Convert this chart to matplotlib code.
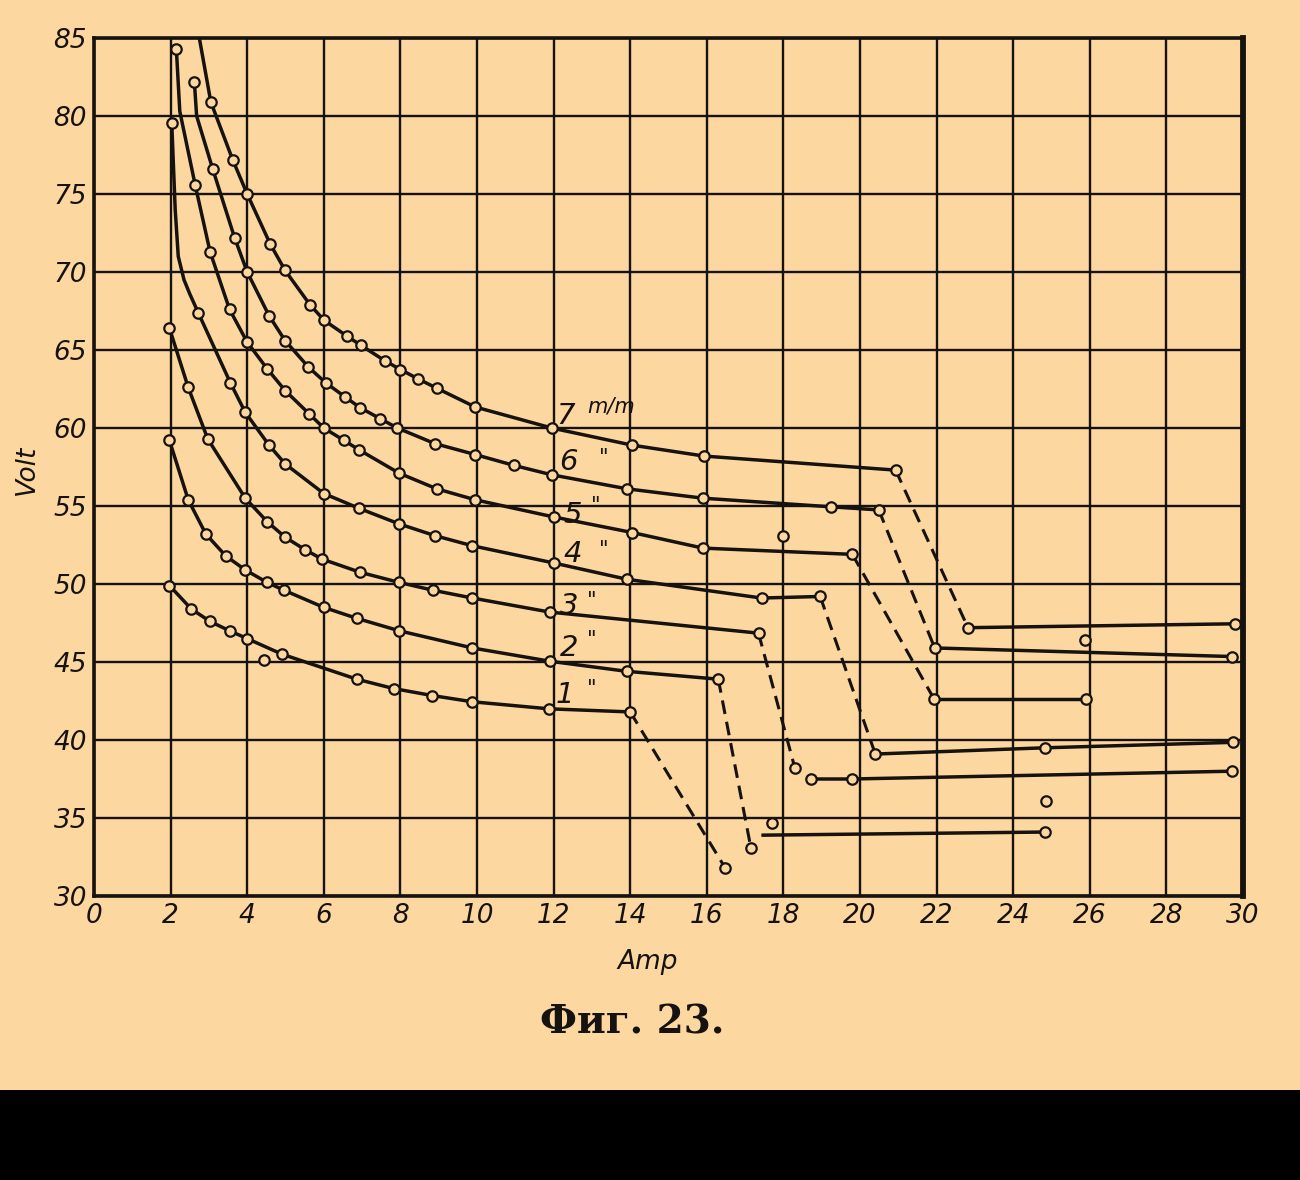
import matplotlib
matplotlib.use('Agg')
import matplotlib.pyplot as plt
from matplotlib.patches import Rectangle

BG = '#FDD7A0'
INK = '#161210'

# ---------------- data (Amp, Volt) ----------------
amp_ticks = list(range(0, 31, 2))
volt_ticks = list(range(30, 86, 5))

# curve "7 m/m"  (mark = 0: vertex of the drawn line without an observation circle)
c7_amp  = [2.75, 3.05, 3.62, 4.00, 4.60, 4.99, 5.64, 6.01, 6.60, 6.97, 7.60, 8.00, 8.46, 8.95, 9.95, 11.95, 14.05, 15.93, 20.93]
c7_volt = [85.0, 80.9, 77.2, 75.0, 71.8, 70.1, 67.9, 66.9, 65.9, 65.3, 64.3, 63.75, 63.15, 62.55, 61.35, 60.0, 58.9, 58.2, 57.3]
c7_mark = [0] + [1] * 18
c7_low_amp  = [22.82, 29.80]
c7_low_volt = [47.2, 47.45]

# curve "6"
c6_amp  = [2.62, 2.68, 3.10, 3.67, 4.00, 4.57, 4.99, 5.60, 6.05, 6.55, 6.95, 7.47, 7.92, 8.90, 9.95, 10.97, 11.95, 13.92, 15.90, 19.23, 20.49]
c6_volt = [82.2, 80.0, 76.6, 72.2, 70.0, 67.2, 65.6, 63.9, 62.9, 62.0, 61.3, 60.6, 60.0, 59.0, 58.3, 57.6, 57.0, 56.1, 55.5, 54.95, 54.75]
c6_mark = [1, 0] + [1] * 19
c6_low_amp  = [21.95, 29.71]
c6_low_volt = [45.9, 45.35]

# curve "5"
c5_amp  = [2.15, 2.24, 2.64, 3.03, 3.54, 4.00, 4.52, 4.99, 5.62, 6.00, 6.53, 6.92, 7.97, 8.95, 9.95, 12.00, 14.05, 15.90, 19.80]
c5_volt = [84.3, 80.3, 75.6, 71.3, 67.6, 65.5, 63.8, 62.4, 60.9, 60.0, 59.2, 58.6, 57.1, 56.1, 55.4, 54.3, 53.3, 52.3, 51.9]
c5_mark = [1, 0] + [1] * 17
c5_low_amp  = [21.94, 25.90]
c5_low_volt = [42.6, 42.6]

# curve "4"
c4_amp  = [2.03, 2.12, 2.20, 2.35, 2.50, 2.72, 3.56, 3.95, 4.57, 4.99, 6.00, 6.92, 7.97, 8.90, 9.88, 12.00, 13.92, 17.43, 18.96]
c4_volt = [79.55, 74.0, 71.0, 69.5, 68.6, 67.4, 62.9, 61.0, 58.9, 57.7, 55.8, 54.85, 53.85, 53.1, 52.45, 51.35, 50.3, 49.1, 49.2]
c4_mark = [1, 0, 0, 0, 0] + [1] * 14
c4_low_amp  = [20.40, 24.82, 29.74]
c4_low_volt = [39.1, 39.5, 39.85]

# curve "3"
c3_amp  = [1.97, 2.46, 2.97, 3.95, 4.52, 4.99, 5.51, 5.95, 6.95, 7.97, 8.85, 9.88, 11.90, 17.35]
c3_volt = [66.4, 62.6, 59.3, 55.5, 54.0, 53.0, 52.2, 51.6, 50.75, 50.1, 49.6, 49.1, 48.2, 46.85]
c3_mark = [1] * 14
c3_drop_amp, c3_drop_volt = 18.30, 38.2
c3_low_amp  = [18.71, 19.78, 29.71]
c3_low_volt = [37.5, 37.5, 38.0]

# curve "2"
c2_amp  = [1.97, 2.46, 2.92, 3.44, 3.95, 4.52, 4.96, 6.00, 6.86, 7.97, 9.88, 11.90, 13.92, 16.30]
c2_volt = [59.2, 55.4, 53.2, 51.8, 50.9, 50.1, 49.6, 48.5, 47.8, 47.0, 45.9, 45.05, 44.4, 43.9]
c2_mark = [1] * 14
c2_drop_amp, c2_drop_volt = 17.15, 33.1

# curve "1"
c1_amp  = [1.97, 2.54, 3.03, 3.54, 4.00, 4.91, 6.86, 7.82, 8.83, 9.88, 11.87, 14.00]
c1_volt = [49.9, 48.4, 47.6, 47.0, 46.5, 45.5, 43.9, 43.3, 42.85, 42.45, 42.0, 41.8]
c1_mark = [1] * 12
c1_drop_amp, c1_drop_volt = 16.48, 31.8

# short low segment and loose observation circles
low_seg_amp  = [17.47, 24.82]
low_seg_volt = [33.9, 34.1]
loose_amp  = [25.87, 18.00, 17.70, 24.85, 4.44]
loose_volt = [46.4, 53.05, 34.7, 36.1, 45.1]

curve_labels = ['7', '6', '5', '4', '3', '2', '1']
label_amp  = [12.30, 12.40, 12.49, 12.49, 12.40, 12.40, 12.30]
label_volt = [60.8, 57.8, 54.45, 51.9, 48.6, 45.9, 42.9]
quote_amp  = [None, 13.30, 13.10, 13.30, 13.00, 13.00, 13.00]
quote_volt = [None, 58.1, 55.0, 52.2, 48.9, 46.4, 43.3]

# ---------------- drawing ----------------
W, H = 1300, 1180
fig = plt.figure(figsize=(W / 100, H / 100), dpi=100, facecolor=BG)
ax = fig.add_axes([94 / W, 1 - 896 / H, (1243 - 94) / W, (896 - 38) / H])
ax.set_facecolor(BG)
ax.set_xlim(0, 30)
ax.set_ylim(30, 85)
ax.set_xticks(amp_ticks)
ax.set_yticks(volt_ticks)
ax.grid(True, color=INK, lw=1.7)
ax.set_axisbelow(True)
ax.tick_params(length=0, labelsize=19, pad=5, colors=INK)
for lab in ax.get_xticklabels() + ax.get_yticklabels():
    lab.set_style('italic')
for side in ['left', 'bottom', 'top']:
    ax.spines[side].set_linewidth(2.6)
    ax.spines[side].set_color(INK)
ax.spines['right'].set_linewidth(4.2)
ax.spines['right'].set_color(INK)

LW = 2.5
DASH = (0, (4.5, 2.6))


def markers(xs, ys):
    ax.plot(xs, ys, 'o', ms=7.5, mfc=BG, mec=INK, mew=1.6, zorder=5, clip_on=False)


def curve(xs, ys, mask):
    ax.plot(xs, ys, color=INK, lw=LW, zorder=4, solid_capstyle='round', solid_joinstyle='round')
    markers([x for x, m in zip(xs, mask) if m], [y for y, m in zip(ys, mask) if m])


def drop(x0, y0, x1, y1):
    ax.plot([x0, x1], [y0, y1], color=INK, lw=2.2, ls=DASH, zorder=4)


def low(xs, ys):
    ax.plot(xs, ys, color=INK, lw=LW, zorder=4)
    markers(xs, ys)


curve(c7_amp, c7_volt, c7_mark)
drop(c7_amp[-1], c7_volt[-1], c7_low_amp[0], c7_low_volt[0])
low(c7_low_amp, c7_low_volt)

curve(c6_amp, c6_volt, c6_mark)
drop(c6_amp[-1], c6_volt[-1], c6_low_amp[0], c6_low_volt[0])
low(c6_low_amp, c6_low_volt)

curve(c5_amp, c5_volt, c5_mark)
drop(c5_amp[-1], c5_volt[-1], c5_low_amp[0], c5_low_volt[0])
low(c5_low_amp, c5_low_volt)

curve(c4_amp, c4_volt, c4_mark)
drop(c4_amp[-1], c4_volt[-1], c4_low_amp[0], c4_low_volt[0])
low(c4_low_amp, c4_low_volt)

curve(c3_amp, c3_volt, c3_mark)
drop(c3_amp[-1], c3_volt[-1], c3_drop_amp, c3_drop_volt)
markers([c3_drop_amp], [c3_drop_volt])
low(c3_low_amp, c3_low_volt)

curve(c2_amp, c2_volt, c2_mark)
drop(c2_amp[-1], c2_volt[-1], c2_drop_amp, c2_drop_volt)
markers([c2_drop_amp], [c2_drop_volt])

curve(c1_amp, c1_volt, c1_mark)
drop(c1_amp[-1], c1_volt[-1], c1_drop_amp, c1_drop_volt)
markers([c1_drop_amp], [c1_drop_volt])

ax.plot(low_seg_amp, low_seg_volt, color=INK, lw=LW, zorder=4)
markers([low_seg_amp[-1]], [low_seg_volt[-1]])
markers(loose_amp, loose_volt)

for t, x, y, qx, qy in zip(curve_labels, label_amp, label_volt, quote_amp, quote_volt):
    ax.text(x, y, t, fontsize=21, style='italic', color=INK, ha='center', va='center', zorder=6)
    if qx is not None:
        ax.text(qx, qy, '"', fontsize=15, style='italic', color=INK, ha='center', va='center', zorder=6)
ax.text(13.5, 61.35, 'm/m', fontsize=15, style='italic', color=INK, ha='center', va='center', zorder=6)

# axis titles and caption
fig.text(648 / W, 1 - 962 / H, 'Amp', fontsize=19, style='italic', color=INK, ha='center', va='center')
fig.text(27 / W, 1 - 470 / H, 'Volt', fontsize=19, style='italic', color=INK, ha='center', va='center', rotation=90)
fig.text(632 / W, 1 - 1022 / H, 'Фиг. 23.', fontsize=28, family='DejaVu Serif', fontweight='bold',
         color=INK, ha='center', va='center')

# dark strip along the bottom edge
fig.patches.append(Rectangle((0, 0), 1, 90 / H, transform=fig.transFigure, facecolor='black',
                             edgecolor='none', zorder=0))

fig.savefig('out.png', dpi=100, facecolor=BG)
